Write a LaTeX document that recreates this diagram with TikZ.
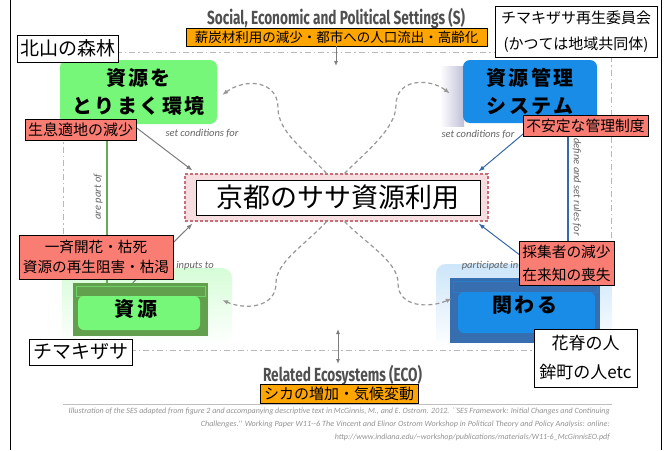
\documentclass[tikz,border=0pt]{standalone}
\usepackage{fontspec}
\usepackage{graphicx}
\usetikzlibrary{arrows.meta,calc}
\setmainfont{Noto Sans CJK JP}
\newfontfamily\jp{Noto Sans CJK JP}
\newfontfamily\jpb[LetterSpace=12]{Noto Sans CJK JP}
\newfontfamily\enit{Carlito}
\newfontfamily\entitle{Fira Sans}
\newcommand\setfs[2]{\fontsize{#1}{#2}\selectfont}
\definecolor{gbright}{RGB}{118,247,122}
\definecolor{bbright}{RGB}{24,140,230}
\definecolor{redlab}{RGB}{250,125,115}
\definecolor{orlab}{RGB}{255,165,0}
\definecolor{gdark}{RGB}{98,160,78}
\definecolor{bdark}{RGB}{55,110,175}
\definecolor{lineg}{RGB}{125,125,125}
\definecolor{lineb}{RGB}{55,105,170}
\definecolor{lgreen}{RGB}{105,170,90}
\definecolor{pinkf}{RGB}{246,222,224}
\definecolor{pinkd}{RGB}{200,110,120}
\definecolor{txtgray}{RGB}{100,100,100}
\definecolor{ttlgray}{RGB}{80,80,80}
\begin{document}
\begin{tikzpicture}[x=1pt,y=-1pt,
  lab/.style={draw=black, line width=0.8pt, inner sep=0pt, font=\jp, align=center},
  whitelab/.style={lab, fill=white},
  redl/.style={lab, fill=redlab},
  orl/.style={lab, fill=orlab},
  bigbox/.style={rounded corners=7pt, inner sep=0pt, align=center, font=\jpb\bfseries\setfs{20}{28}},
  italab/.style={font=\enit\itshape\setfs{10.5}{12}, text=txtgray, inner sep=0pt},
  ttl/.style={font=\entitle\bfseries\setfs{19}{21}, text=ttlgray, inner sep=0pt},
  cite/.style={font=\enit\itshape\setfs{8}{9}, text=gray!85, inner sep=0pt, anchor=east},
  garrow/.style={draw=lineg, line width=1pt, -{Latex[length=6pt,width=4.5pt]}},
  barrow/.style={draw=lineb, line width=1pt, -{Latex[length=6pt,width=4.5pt]}},
  fb/.style={draw=lineg!80, line width=1.2pt, dash pattern=on 4pt off 3pt, -{Latex[length=6pt,width=4.5pt]}}
]
\useasboundingbox (0,0) rectangle (669,450);
\fill[white] (0,0) rectangle (669,450);
% outer frame lines
\draw[black, line width=0.8pt] (10,0) -- (10,450);
\draw[black, line width=0.8pt] (661,0) -- (661,450);
% S dashed rectangle
\draw[gray!55, line width=0.9pt, dash pattern=on 6pt off 3pt on 1.5pt off 3pt] (63,52) rectangle (611,350);
% gray line above citation
\draw[gray!50, line width=0.8pt] (63,404) -- (612,404);

% shadows / blocks
\shade[left color=white, right color=blue!25!gray!40] (440,66) rectangle (464,126);
\shade[top color=gbright!30, bottom color=white, rounded corners=10pt] (62,268) rectangle (232,345);
\shade[top color=bbright!22, bottom color=white, rounded corners=10pt] (436,264) rectangle (612,348);
\node[fill=gdark, minimum width=135pt, minimum height=53pt, inner sep=0pt] (gblk) at (140.5,309.5) {};
\draw[gbright!60!gdark, line width=0.8pt] (76,286) rectangle (205,296);
\node[fill=bdark, minimum width=150pt, minimum height=65pt, inner sep=0pt] (bblk) at (525,310.5) {};
\draw[bbright!50!bdark, line width=0.8pt] (453,281) rectangle (597,292);

% main boxes
\node[bigbox, fill=gbright, minimum width=157pt, minimum height=64pt] (tg) at (138.5,92) {資源を\\とりまく環境};
\node[bigbox, fill=bbright, minimum width=134pt, minimum height=63pt] (tb) at (530,91.5) {資源管理\\システム};
\node[fill=pinkf, draw=pinkd, line width=1.2pt, dash pattern=on 3pt off 2pt, minimum width=303pt, minimum height=47pt, inner sep=0pt] (cp) at (336.5,197.5) {};
\node[fill=white, draw=black, line width=0.9pt, minimum width=284pt, minimum height=35pt, inner sep=0pt, font=\jp\setfs{27}{30}] (c) at (338,197.5) {京都のササ資源利用};
\node[bigbox, fill=gbright, rounded corners=6pt, minimum width=122pt, minimum height=34pt] (bg) at (139,313) {};
\node[bigbox, fill=bbright, rounded corners=6pt, minimum width=137pt, minimum height=41pt] (bb) at (526.5,312.5) {};
\node[font=\jpb\bfseries\setfs{20}{24}, inner sep=0pt] (bgt) at (136,309) {資源};
\node[font=\jpb\bfseries\setfs{20}{24}, inner sep=0pt] (bbt) at (525,305) {関わる};

% vertical relation lines
\draw[lgreen, line width=1.6pt] ($(tg.south west)+(47,0)$) -- ($(gblk.north west)+(34,0)$);
\draw[lineb, line width=1.6pt] ($(tb.south west)+(105,0)$) -- ($(bblk.north west)+(118,0)$);
\node[italab, rotate=90] (l1) at (98,197) {are part of};
\node[italab, rotate=-90] (l2) at (577,187) {define and set rules for};

% straight arrows
\draw[garrow] ($(tg.south west)+(72,0)$) -- ($(cp.north west)+(8,-3)$);
\draw[barrow] ($(tb.south)+(6,0)$) -- ($(cp.north east)+(-10,-2)$);
\draw[garrow] ($(gblk.north west)+(60,0)$) -- ($(cp.south west)+(8,2)$);
\draw[barrow] ($(bblk.north west)+(100,0)$) -- ($(cp.south east)+(-10,2)$);
\node[italab] (l3) at (202,133) {set conditions for};
\node[italab] (l4) at (478,134) {set conditions for};
\node[italab] (l5) at (195,266) {inputs to};
\node[italab] (l6) at (490,266) {participate in};

% dashed feedback curves
\coordinate (s1) at ($(cp.north)+(-10,0)$);
\coordinate (s2) at ($(cp.north)+(8,0)$);
\coordinate (s3) at ($(cp.south)+(-10,0)$);
\coordinate (s4) at ($(cp.south)+(8,0)$);
\coordinate (t1) at ($(tg.east)+(5,3)$);
\coordinate (t2) at ($(tb.west)+(-13,2)$);
\coordinate (t3) at ($(gblk.east)+(14,-9.5)$);
\coordinate (t4) at ($(bblk.west)+(2,-12)$);
\draw[fb] (s1) .. controls (305,150) and (278,132) .. (278,108) .. controls (278,80) and (245,78) .. (t1);
\draw[fb] (s2) .. controls (368,150) and (396,128) .. (396,105) .. controls (396,78) and (430,78) .. (t2);
\draw[fb] (s3) .. controls (305,245) and (276,262) .. (276,283) .. controls (276,308) and (245,310) .. (t3);
\draw[fb] (s4) .. controls (368,245) and (398,262) .. (398,283) .. controls (398,308) and (430,308) .. (t4);

% titles
\node[ttl] (st) at (336,18) {\resizebox{258pt}{\height}{Social, Economic and Political Settings (S)}};
\node[ttl] (eco) at (342.5,375) {\resizebox{159pt}{\height}{Related Ecosystems (ECO)}};
\node[orl, minimum width=301pt, minimum height=18pt, font=\jp\setfs{13.5}{15}] (otop) at (336.5,37) {薪炭材利用の減少・都市への人口流出・高齢化};
\coordinate (sarr) at (336,66);
\draw[lineg, line width=1pt, -{Latex[length=5pt,width=4pt]}] (otop.south -| sarr) -- (sarr);
\coordinate (e1) at (338,329);
\coordinate (e2) at (338,364);
\draw[lineg, line width=1pt, {Latex[length=5pt,width=4pt]}-{Latex[length=5pt,width=4pt]}] (e1) -- (e2);
\node[orl, minimum width=158pt, minimum height=19pt, font=\jp\setfs{15}{17}] (obot) at (339,393.5) {シカの増加・気候変動};

% annotation labels
\node[whitelab, minimum width=101pt, minimum height=27pt, font=\jp\setfs{19}{21}] (kita) at (67.5,48.5) {北山の森林};
\node[whitelab, minimum width=162pt, minimum height=51pt, font=\jp\setfs{15}{26}] (comm) at (576,31.5) {チマキザサ再生委員会\\(かつては地域共同体)};
\node[redl, minimum width=111pt, minimum height=21pt, font=\jp\setfs{15}{17}] (r1) at (80.5,129.5) {生息適地の減少};
\node[redl, minimum width=125pt, minimum height=21pt, font=\jp\setfs{14.8}{17}] (r2) at (585.5,125.5) {不安定な管理制度};
\node[redl, minimum width=154pt, minimum height=44pt, font=\jp\setfs{14.6}{19.5}] (r3) at (96,257) {一斉開花・枯死\\資源の再生阻害・枯渇};
\node[redl, minimum width=95pt, minimum height=44pt, font=\jp\setfs{14.7}{23}] (r4) at (566.5,263) {採集者の減少\\在来知の喪失};
\node[whitelab, minimum width=103pt, minimum height=26pt, font=\jp\setfs{19}{21}] (chim) at (80.5,352) {チマキザサ};
\node[whitelab, minimum width=103pt, minimum height=58pt, font=\jp\setfs{17}{29}] (hito) at (585.5,358) {花脊の人\\鉾町の人etc};

% citation
\node[cite] (c1) at (610,411) {\resizebox{541pt}{\height}{Illustration of the SES adapted from figure 2 and accompanying descriptive text in McGinnis, M., and E. Ostrom. 2012. ``SES Framework: Initial Changes and Continuing}};
\node[cite] (c2) at (610,424) {\resizebox{409pt}{\height}{Challenges.'' Working Paper W11--6 The Vincent and Elinor Ostrom Workshop in Political Theory and Policy Analysis: online:}};
\node[cite] (c3) at (610,437) {\resizebox{275pt}{\height}{http://www.indiana.edu/\textasciitilde workshop/publications/materials/W11-6\_McGinnisEO.pdf}};
\end{tikzpicture}
\end{document}
